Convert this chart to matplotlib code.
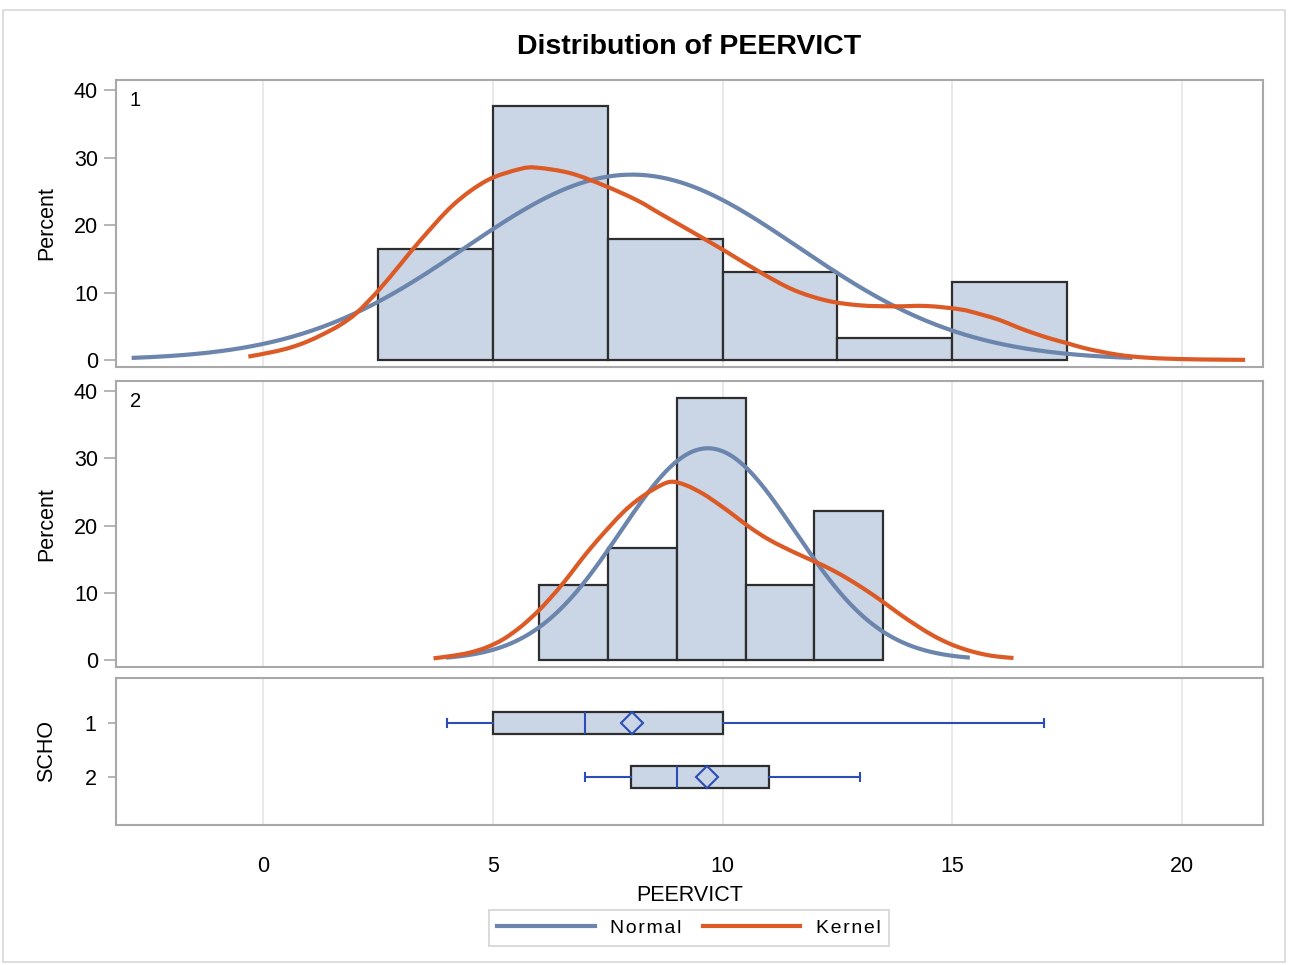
import numpy as np
import matplotlib
matplotlib.use("Agg")
import matplotlib.pyplot as plt
from matplotlib.lines import Line2D
from matplotlib.patches import Rectangle, PathPatch
from matplotlib.path import Path

plt.rcParams['font.family'] = ['Liberation Sans', 'DejaVu Sans']

# ---- data ----
# group 1 histogram (percent per bin)
edges1 = [2.5, 5.0, 7.5, 10.0, 12.5, 15.0, 17.5]
pct1 = [16.4, 37.7, 18.0, 13.1, 3.3, 11.5]
# group 2 histogram
edges2 = [6.0, 7.5, 9.0, 10.5, 12.0, 13.5]
pct2 = [11.1, 16.7, 38.9, 11.1, 22.2]

# fitted normal parameters (mean, std)
norm1 = (8.03, 3.63)
norm2 = (9.68, 1.90)

# kernel density curves (percent scale)
k1_x = [-0.32, 0.22, 0.6, 0.95, 1.3, 1.68, 2.04, 2.51, 2.98, 3.42, 4.14, 4.87, 5.59,
        5.96, 6.68, 7.41, 8.13, 8.64, 9.36, 10.09, 10.82, 11.54, 12.27, 12.99, 13.72,
        14.44, 15.17, 15.6, 16.04, 16.4, 16.76, 17.12, 17.49, 17.85, 18.22, 18.58,
        18.94, 19.3, 19.67, 20.4, 21.37]
k1_y = [0.5, 1.2, 1.85, 2.7, 3.8, 5.2, 7.0, 10.3, 14.1, 17.7, 23.0, 26.6, 28.3,
        28.5, 27.7, 25.9, 23.7, 21.7, 18.9, 16.0, 13.0, 10.4, 8.8, 8.1, 7.95,
        8.0, 7.5, 6.8, 5.9, 4.9, 4.0, 3.2, 2.5, 1.8, 1.25, 0.8,
        0.5, 0.32, 0.2, 0.08, 0.02]
k2_x = [3.71, 4.1, 4.5, 4.87, 5.23, 5.6, 5.96, 6.25, 6.54, 6.8, 7.04, 7.3, 7.55, 7.84,
        8.13, 8.5, 8.86, 9.2, 9.58, 9.95, 10.23, 10.6, 10.96, 11.32, 11.69, 12.05,
        12.41, 12.77, 13.14, 13.5, 13.86, 14.23, 14.59, 14.95, 15.31, 15.68, 16.0, 16.33]
k2_y = [0.25, 0.6, 1.1, 1.9, 3.1, 4.9, 7.1, 9.2, 11.5, 13.8, 15.9, 18.0, 19.9, 22.0,
        23.7, 25.4, 26.5, 26.0, 24.7, 23.0, 21.6, 19.7, 18.1, 16.8, 15.6, 14.5,
        13.3, 11.9, 10.3, 8.6, 6.8, 5.1, 3.6, 2.4, 1.5, 0.85, 0.5, 0.3]

# box plot statistics by SCHO
groups = ['1', '2']
q1 = [5, 8]
med = [7, 9]
q3 = [10, 11]
whislo = [4, 7]
whishi = [17, 13]
means = [8.03, 9.67]

xticks = [0, 5, 10, 15, 20]

# ---- styling ----
W, H = 1293, 965
fill = '#CAD5E5'
edge = '#2E2E2E'
c_norm = '#6B85AC'
c_kern = '#DC5A26'
c_box = '#2B4DB5'
spine_c = '#A8A8A8'
grid_c = '#E5E5E5'
fs = 15.5


def ax_at(left, top, right, bottom):
    return fig.add_axes([left / W, 1 - bottom / H, (right - left) / W, (bottom - top) / H])


def smooth_line(ax, x, y, **kw):
    # draw the read points joined by cubic bezier segments (catmull-rom style)
    p = np.column_stack([x, y])
    verts = [p[0]]
    codes = [Path.MOVETO]
    for i in range(len(p) - 1):
        a = p[i - 1] if i > 0 else p[i]
        d = p[i + 2] if i + 2 < len(p) else p[i + 1]
        verts += [p[i] + (p[i + 1] - a) / 6, p[i + 1] - (d - p[i]) / 6, p[i + 1]]
        codes += [Path.CURVE4] * 3
    ax.add_patch(PathPatch(Path(verts, codes), fill=False, **kw))


fig = plt.figure(figsize=(W / 100, H / 100), dpi=100)
fig.patches.append(Rectangle((3 / W, 3 / H), 1282 / W, 952 / H, transform=fig.transFigure,
                             fill=False, edgecolor='#D8D8D8', linewidth=1.2))

ax1 = ax_at(116, 80, 1263, 367)
ax2 = ax_at(116, 381, 1263, 667)
ax3 = ax_at(116, 678, 1263, 825)
xlim = (-3.2, 21.76)


def style(ax):
    ax.set_xlim(*xlim)
    ax.set_xticks(xticks)
    ax.grid(axis='x', color=grid_c, linewidth=1.2, zorder=0)
    ax.set_axisbelow(True)
    for s in ax.spines.values():
        s.set_color(spine_c)
        s.set_linewidth(1.5)
    ax.tick_params(axis='y', length=9, width=1.2, color=spine_c, labelsize=fs, pad=4)
    ax.tick_params(axis='x', length=0, labelsize=fs, pad=22)


for ax, edges, pct, (mu, sd), kx, ky, lab in [
        (ax1, edges1, pct1, norm1, k1_x, k1_y, '1'),
        (ax2, edges2, pct2, norm2, k2_x, k2_y, '2')]:
    style(ax)
    widths = np.diff(edges)
    ax.bar(edges[:-1], pct, width=widths, align='edge', color=fill,
           edgecolor=edge, linewidth=1.6, zorder=2)
    xs = np.linspace(mu - 3 * sd, mu + 3 * sd, 300)
    ys = 100 * widths[0] * np.exp(-0.5 * ((xs - mu) / sd) ** 2) / (sd * np.sqrt(2 * np.pi))
    ax.plot(xs, ys, color=c_norm, linewidth=3, zorder=3, solid_capstyle='butt')
    smooth_line(ax, kx, ky, edgecolor=c_kern, linewidth=3, zorder=4, capstyle='butt')
    ax.set_ylim(-1.04, 41.5)
    ax.set_yticks([0, 10, 20, 30, 40])
    ax.set_ylabel('Percent', fontsize=fs, labelpad=12)
    ax.tick_params(axis='x', labelbottom=False)
    ax.text(0.012, 0.96, lab, transform=ax.transAxes, ha='left', va='top', fontsize=fs - 1)

# box plot panel
style(ax3)
stats = [dict(med=med[i], q1=q1[i], q3=q3[i], whislo=whislo[i], whishi=whishi[i],
              mean=means[i], fliers=[], label=groups[i]) for i in range(len(groups))]
ax3.bxp(stats, positions=[1, 2], widths=0.4, orientation='horizontal', showmeans=True,
        patch_artist=True, capwidths=0.16,
        boxprops=dict(facecolor=fill, edgecolor=edge, linewidth=1.6),
        medianprops=dict(color=c_box, linewidth=1.5),
        whiskerprops=dict(color=c_box, linewidth=1.5),
        capprops=dict(color=c_box, linewidth=1.5),
        meanprops=dict(marker='D', markersize=11, markerfacecolor='none',
                       markeredgecolor=c_box, markeredgewidth=1.5))
ax3.set_ylim(2.889, 0.167)
ax3.set_yticks([1, 2])
ax3.set_yticklabels(groups)
ax3.tick_params(axis='y', length=6, pad=8)
ax3.set_ylabel('SCHO', fontsize=fs, labelpad=20)
ax3.set_xlabel('PEERVICT', fontsize=fs, labelpad=6)

fig.suptitle('Distribution of PEERVICT', x=689 / W, y=1 - 47 / H, va='center',
             fontsize=20.5, fontweight='bold')

handles = [Line2D([], [], color=c_norm, linewidth=3), Line2D([], [], color=c_kern, linewidth=3)]
leg = fig.legend(handles, ['N o r m a l'.replace(' ', '\u200a'), 'K e r n e l'.replace(' ', '\u200a')],
                 loc='center', bbox_to_anchor=(689 / W, 1 - 928 / H),
                 ncol=2, fontsize=14, frameon=True, fancybox=False, handlelength=5,
                 columnspacing=1.1, handletextpad=0.8, borderpad=0.45)
leg.get_frame().set_edgecolor('#C8C8C8')
leg.get_frame().set_linewidth(1.2)

fig.savefig('out.png', dpi=100)
